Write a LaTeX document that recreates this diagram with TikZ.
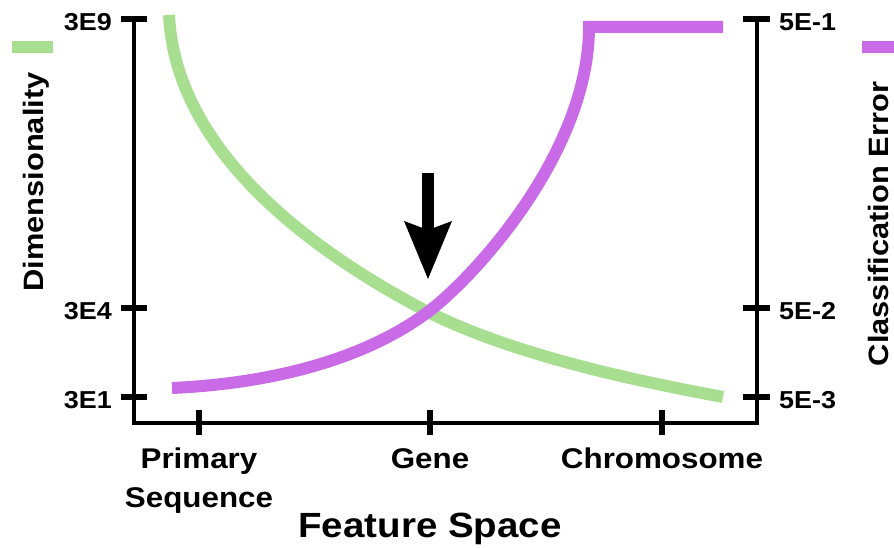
\documentclass[tikz,border=0pt]{standalone}
\usepackage{fontspec}
\setmainfont{Liberation Sans}[FakeStretch=1.1]
\usetikzlibrary{arrows.meta}

\definecolor{dimgreen}{RGB}{168,222,143}
\definecolor{errpurple}{RGB}{201,106,230}

\begin{document}
\begin{tikzpicture}[x=1pt,y=-1pt,
	tickmark/.style={line width=6pt},
	curve/.style={line width=12pt},
	ticklbl/.style={font=\bfseries\fontsize{24.5}{28}\selectfont, inner sep=0pt},
	catlbl/.style={font=\bfseries\fontsize{28.5}{39}\selectfont, inner sep=0pt, align=center, anchor=base},
	axttl/.style={font=\bfseries\fontsize{28}{32}\selectfont, inner sep=0pt, anchor=base}]
	\useasboundingbox (0,0) rectangle (894,548);
	\def\xl{134}
	\def\xr{757}
	\def\yb{423}

	% axes
	\draw[line width=4.5pt, line join=miter] (\xl,19) -- (\xl,\yb) -- (\xr,\yb) -- (\xr,19);
	\foreach \y in {19,308,397} {
		\draw[tickmark] (\xl-13,\y) -- (\xl+13,\y);
		\draw[tickmark] (\xr-14,\y) -- (\xr+13,\y);
	}
	\foreach \x in {199,430,662}
		\draw[tickmark] (\x,\yb-13) -- (\x,\yb+12);

	% left scale
	\node[ticklbl, anchor=east] (l3e9) at (112,22) {3E9};
	\node[ticklbl, anchor=east] (l3e4) at (112,311) {3E4};
	\node[ticklbl, anchor=east] (l3e1) at (112,400) {3E1};

	% right scale
	\node[ticklbl, anchor=west] (r5e1) at (779,22) {5E-1};
	\node[ticklbl, anchor=west] (r5e2) at (779,311) {5E-2};
	\node[ticklbl, anchor=west] (r5e3) at (779,400) {5E-3};

	% categories
	\node[catlbl] (primary) at (199,507) {Primary\\Sequence};
	\node[catlbl] (gene) at (430,468) {Gene};
	\node[catlbl] (chrom) at (662,468) {Chromosome};
	\node[axttl, font=\bfseries\fontsize{35}{40}\selectfont] (feat) at (430,537) {Feature Space};

	% legends
	\fill[dimgreen] (12,41) rectangle (53,53);
	\node[axttl, rotate=90] (dimttl) at (43,182) {Dimensionality};
	\fill[errpurple] (862,41) rectangle (894,53);
	\node[axttl, rotate=90] (errttl) at (888,224) {Classification Error};

	% curves
	\coordinate (cross) at (428,312);
	\draw[curve, dimgreen] (169,15) .. controls (175,140) and (290,240) .. (cross)
		.. controls (518,357) and (643,382) .. (723,397);
	\draw[curve, errpurple, line join=miter] (172,388) .. controls (260,384) and (358,364) .. (cross)
		.. controls (478,274) and (589,150) .. (589,27) -- (723,27);

	% arrow
	\coordinate (arrtop) at (428,173);
	\coordinate (arrtip) at (428,279);
	\draw[line width=12pt, -{Stealth[length=58pt, width=48pt, inset=9pt, line width=0pt]}] (arrtop) -- (arrtip);
\end{tikzpicture}
\end{document}
